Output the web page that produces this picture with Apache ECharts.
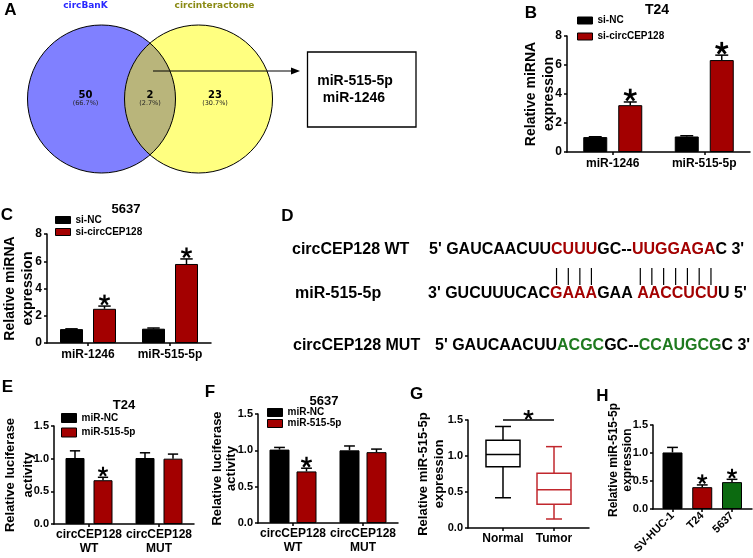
<!DOCTYPE html>
<html>
<head>
<meta charset="utf-8">
<script src="https://cdn.jsdelivr.net/npm/echarts@6.0.0/dist/echarts.min.js"></script>
<style>
html,body{margin:0;padding:0;background:#ffffff;}
#chart{width:753px;height:558px;}
</style>
</head>
<body>
<div id="chart"></div>
<script>
// ================= DATA =================
// A: Venn diagram
const vennSetNames = ['circBanK', 'circinteractome'];
const vennCounts = [50, 2, 23];
const vennPercents = ['(66.7%)', '(2.7%)', '(30.7%)'];
const vennShared = ['miR-515-5p', 'miR-1246'];

// B: T24, relative miRNA expression
const bTitle = 'T24';
const bCategories = ['miR-1246', 'miR-515-5p'];
const bSiNC = [1.03, 1.07];
const bSiNCErr = [1.05, 1.12];
const bSiCirc = [3.23, 6.34];
const bSiCircErr = [3.45, 6.68];
const bSiCircSig = [1, 1];

// C: 5637, relative miRNA expression
const cTitle = '5637';
const cCategories = ['miR-1246', 'miR-515-5p'];
const cSiNC = [1.02, 1.05];
const cSiNCErr = [1.04, 1.10];
const cSiCirc = [2.51, 5.80];
const cSiCircErr = [2.71, 6.17];
const cSiCircSig = [1, 1];

const expYTicks = [0, 2, 4, 6, 8];
const siNames = ['si-NC', 'si-circCEP128'];

// D: sequences (segments; odd segments are the seed-pairing / mutated bases)
const dRowLabels = ['circCEP128 WT', 'miR-515-5p', 'circCEP128 MUT'];
const dWT = ["5' GAUCAACUU", 'CUUU', 'GC--', 'UUGGAGA', "C 3'"];
const dMiR = ["3' GUCUUUCAC", 'GAAA', 'GAA ', 'AACCUCU', "U 5'"];
const dMUT = ["5' GAUCAACUU", 'ACGC', 'GC--', 'CCAUGCG', "C 3'"];

// E: T24 luciferase
const eTitle = 'T24';
const lucCategories = ['circCEP128\nWT', 'circCEP128\nMUT'];
const eMiNC = [1.01, 1.01];
const eMiNCErr = [1.12, 1.09];
const eMi515 = [0.67, 1.00];
const eMi515Err = [0.715, 1.07];
const eMi515Sig = [1, 0];

// F: 5637 luciferase
const fTitle = '5637';
const fMiNC = [1.01, 1.00];
const fMiNCErr = [1.04, 1.06];
const fMi515 = [0.71, 0.975];
const fMi515Err = [0.754, 1.017];
const fMi515Sig = [1, 0];

const lucYTicks = [0.0, 0.5, 1.0, 1.5];
const miNames = ['miR-NC', 'miR-515-5p'];

// G: box plot  [min, Q1, median, Q3, max]
const gCategories = ['Normal', 'Tumor'];
const gNormal = [0.42, 0.85, 1.02, 1.22, 1.41];
const gTumor = [0.125, 0.33, 0.53, 0.76, 1.13];
const gSigPair = [0, 1];
const gSigLevel = 1.5;

// H: cell lines
const hCategories = ['SV-HUC-1', 'T24', '5637'];
const hValues = [1.01, 0.39, 0.48];
const hErr = [1.10, 0.43, 0.53];
const hSig = [0, 1, 1];

// ================= STYLE =================
const FF = '"Liberation Sans", Arial, Helvetica, sans-serif';
const DV = '"DejaVu Sans", Verdana, sans-serif';
const RED = '#a30000';
const GREEN = '#0c6a10';
const TUMOR = '#c1272d';
const hColors = ['#000000', RED, GREEN];
const gColors = ['#000000', TUMOR];

const grid = [], xAxis = [], yAxis = [], series = [], legend = [], graphic = [];

const AXLINE = {show: true, onZero: false, lineStyle: {color: '#000', width: 1.5}};
function tick(extra) { return Object.assign({show: true, length: 3, lineStyle: {color: '#000', width: 1.5}}, extra || {}); }
function lab(size, extra) { return Object.assign({color: '#000', fontFamily: FF, fontWeight: 'bold', fontSize: size}, extra || {}); }

function T(x, y, text, size, opt) {
  opt = opt || {};
  const align = opt.align || 'center';
  return {type: 'text', x: x, y: y, z: opt.z || 20, silent: true,
    style: {text: text, fill: opt.color || '#000',
      font: (opt.weight || 'bold') + ' ' + size + 'px ' + (opt.family || FF),
      textAlign: align, align: align, textVerticalAlign: 'middle', verticalAlign: 'middle'}};
}

function starShape(cx, cy, r) {
  const children = [];
  for (let k = 0; k < 5; k++) {
    const a = (-90 + 72 * k) * Math.PI / 180;
    children.push({type: 'line', shape: {x1: cx, y1: cy, x2: cx + r * Math.cos(a), y2: cy + r * Math.sin(a)},
      style: {stroke: '#000', lineWidth: Math.max(2, r * 0.42)}});
  }
  return {type: 'group', children: children};
}

function errRender(offset, bw, starR) {
  return function (params, api) {
    const i = api.value(0), v = api.value(1), e = api.value(2), s = api.value(3);
    const pv = api.coord([i, v]);
    const pe = api.coord([i, e]);
    const x = pv[0] + offset;
    const cap = bw * 0.27;
    const children = [
      {type: 'line', shape: {x1: x, y1: pv[1], x2: x, y2: pe[1]}, style: {stroke: '#000', lineWidth: 1.5}},
      {type: 'line', shape: {x1: x - cap, y1: pe[1], x2: x + cap, y2: pe[1]}, style: {stroke: '#000', lineWidth: 1.5}}
    ];
    if (s) children.push(starShape(x, pe[1] - starR * 0.81 - 1.5, starR));
    return {type: 'group', children: children};
  };
}

function yAxisCfg(gi, p) {
  const t = p.ticks;
  return {gridIndex: gi, type: 'value', min: t[0], max: t[t.length - 1], interval: t[1] - t[0],
    axisLine: AXLINE, axisTick: tick(), splitLine: {show: false},
    axisLabel: lab(p.yFont, {margin: 5, formatter: p.yFmt}),
    name: p.name, nameLocation: 'middle', nameRotate: 90, nameGap: p.nameGap, nameMoveOverlap: false,
    nameTextStyle: lab(p.nameFont, {lineHeight: p.nameLH, padding: p.namePad || 0})};
}

function barPanel(p) {
  const gi = grid.length;
  grid.push({left: p.left, top: p.top, width: p.width, height: p.height, containLabel: false, outerBoundsMode: 'none'});
  xAxis.push({gridIndex: gi, type: 'category', data: p.categories, axisLine: AXLINE,
    axisTick: tick({alignWithLabel: true, interval: 0}), splitLine: {show: false},
    axisLabel: lab(p.xFont, {interval: 0, margin: p.xMargin, lineHeight: p.xLH || p.xFont + 2, hideOverlap: false})});
  yAxis.push(yAxisCfg(gi, p));
  const gapPct = (p.barGap / p.barWidth * 100) + '%';
  p.groups.forEach(function (g) {
    series.push({type: 'bar', name: g.name, xAxisIndex: gi, yAxisIndex: gi, data: g.values,
      barWidth: p.barWidth, barGap: gapPct, silent: true, z: 2,
      itemStyle: {color: g.color, borderColor: '#000', borderWidth: 1}});
  });
  p.groups.forEach(function (g, k) {
    const offset = (k - (p.groups.length - 1) / 2) * (p.barWidth + p.barGap);
    series.push({type: 'custom', xAxisIndex: gi, yAxisIndex: gi, silent: true, z: 3, clip: false,
      data: g.values.map(function (v, i) { return [i, v, g.errs[i], g.sigs[i]]; }),
      renderItem: errRender(offset, p.barWidth, p.starR)});
  });
  legend.push({data: p.groups.map(function (g) { return g.name; }), left: p.legend.left, top: p.legend.top,
    orient: 'vertical', icon: 'rect', itemWidth: 15, itemHeight: p.legend.itemHeight, itemGap: p.legend.itemGap,
    padding: 0, selectedMode: false, textStyle: lab(p.legend.font || 10),
    itemStyle: {borderColor: '#000', borderWidth: 1}});
}

const intFmt = function (v) { return String(Math.round(v)); };
const decFmt = function (v) { return v.toFixed(1); };

// ---- B ----
barPanel({left: 567, top: 36, width: 183, height: 116, categories: bCategories, ticks: expYTicks, yFmt: intFmt,
  yFont: 12, xFont: 12, xMargin: 5, name: 'Relative miRNA\nexpression', nameFont: 14, nameLH: 18, nameGap: 9,
  barWidth: 24, barGap: 11, starR: 6.5,
  groups: [{name: siNames[0], values: bSiNC, errs: bSiNCErr, sigs: [0, 0], color: '#000'},
           {name: siNames[1], values: bSiCirc, errs: bSiCircErr, sigs: bSiCircSig, color: RED}],
  legend: {left: 577, top: 15.5, itemHeight: 7, itemGap: 6}});
// ---- C ----
barPanel({left: 47, top: 234, width: 164, height: 109, categories: cCategories, ticks: expYTicks, yFmt: intFmt,
  yFont: 12, xFont: 12, xMargin: 5, name: 'Relative miRNA\nexpression', nameFont: 14, nameLH: 18, nameGap: 10,
  barWidth: 23, barGap: 10, starR: 5.5,
  groups: [{name: siNames[0], values: cSiNC, errs: cSiNCErr, sigs: [0, 0], color: '#000'},
           {name: siNames[1], values: cSiCirc, errs: cSiCircErr, sigs: cSiCircSig, color: RED}],
  legend: {left: 55, top: 215, itemHeight: 7, itemGap: 2}});
// ---- E ----
barPanel({left: 54, top: 426, width: 140, height: 98, categories: lucCategories, ticks: lucYTicks, yFmt: decFmt,
  yFont: 11, xFont: 12, xLH: 14, xMargin: 4, name: 'Relative luciferase\nactivity', nameFont: 13, nameLH: 18, nameGap: 17,
  barWidth: 19, barGap: 9, starR: 5,
  groups: [{name: miNames[0], values: eMiNC, errs: eMiNCErr, sigs: [0, 0], color: '#000'},
           {name: miNames[1], values: eMi515, errs: eMi515Err, sigs: eMi515Sig, color: RED}],
  legend: {left: 61, top: 413, itemHeight: 9, itemGap: 4.5}});
// ---- F ----
barPanel({left: 258, top: 414, width: 140, height: 109, categories: lucCategories, ticks: lucYTicks, yFmt: decFmt,
  yFont: 11, xFont: 12, xLH: 14, xMargin: 4, name: 'Relative luciferase\nactivity', nameFont: 13, nameLH: 14, nameGap: 20,
  barWidth: 20, barGap: 7, starR: 5.5,
  groups: [{name: miNames[0], values: fMiNC, errs: fMiNCErr, sigs: [0, 0], color: '#000'},
           {name: miNames[1], values: fMi515, errs: fMi515Err, sigs: fMi515Sig, color: RED}],
  legend: {left: 267, top: 407.5, itemHeight: 8, itemGap: 1}});

// ---- G (box plot) ----
(function () {
  const gi = grid.length;
  grid.push({left: 468, top: 420, width: 121, height: 108, containLabel: false, outerBoundsMode: 'none'});
  const idx = gCategories.map(function (c, i) { return i; });
  xAxis.push({gridIndex: gi, type: 'value', min: -0.686, max: 1.686, axisLine: AXLINE, splitLine: {show: false},
    axisTick: tick({customValues: idx}),
    axisLabel: lab(12, {customValues: idx, margin: 5, formatter: function (v) { return gCategories[Math.round(v)]; }})});
  yAxis.push(yAxisCfg(gi, {ticks: lucYTicks, yFmt: decFmt, yFont: 11, name: 'Relative miR-515-5p\nexpression',
    nameFont: 13, nameLH: 16, nameGap: 21}));
  const boxes = [gNormal, gTumor];
  series.push({type: 'custom', xAxisIndex: gi, yAxisIndex: gi, silent: true, z: 3,
    data: boxes.map(function (b, i) { return [i].concat(b); }),
    renderItem: function (params, api) {
      const x = api.value(0);
      const pts = [1, 2, 3, 4, 5].map(function (d) { return api.coord([x, api.value(d)]); });
      const cx = pts[0][0], hw = 17, cw = 8;
      const st = {stroke: gColors[params.dataIndex], lineWidth: 1.5, fill: null};
      return {type: 'group', children: [
        {type: 'line', shape: {x1: cx, y1: pts[0][1], x2: cx, y2: pts[1][1]}, style: st},
        {type: 'line', shape: {x1: cx, y1: pts[3][1], x2: cx, y2: pts[4][1]}, style: st},
        {type: 'line', shape: {x1: cx - cw, y1: pts[0][1], x2: cx + cw, y2: pts[0][1]}, style: st},
        {type: 'line', shape: {x1: cx - cw, y1: pts[4][1], x2: cx + cw, y2: pts[4][1]}, style: st},
        {type: 'rect', shape: {x: cx - hw, y: pts[3][1], width: 2 * hw, height: pts[1][1] - pts[3][1]},
          style: {stroke: gColors[params.dataIndex], lineWidth: 1.5, fill: '#fff'}},
        {type: 'line', shape: {x1: cx - hw, y1: pts[2][1], x2: cx + hw, y2: pts[2][1]}, style: st}
      ]};
    }});
  series.push({type: 'custom', xAxisIndex: gi, yAxisIndex: gi, silent: true, z: 4, clip: false,
    data: [[gSigPair[0], gSigPair[1], gSigLevel]],
    renderItem: function (params, api) {
      const a = api.coord([api.value(0), api.value(2)]);
      const b = api.coord([api.value(1), api.value(2)]);
      return {type: 'group', children: [
        {type: 'line', shape: {x1: a[0], y1: a[1], x2: b[0], y2: b[1]}, style: {stroke: '#000', lineWidth: 1.3}},
        starShape((a[0] + b[0]) / 2, a[1] - 5, 5)
      ]};
    }});
})();

// ---- H ----
(function () {
  const gi = grid.length;
  grid.push({left: 653, top: 425, width: 99, height: 84, containLabel: false, outerBoundsMode: 'none'});
  const idx = hCategories.map(function (c, i) { return i; });
  xAxis.push({gridIndex: gi, type: 'value', min: -0.655, max: 2.672, axisLine: AXLINE, splitLine: {show: false},
    axisTick: tick({customValues: idx}),
    axisLabel: lab(11, {customValues: idx, margin: 5, rotate: 45, formatter: function (v) { return hCategories[Math.round(v)]; }})});
  yAxis.push(yAxisCfg(gi, {ticks: lucYTicks, yFmt: decFmt, yFont: 11, name: 'Relative miR-515-5p\nexpression',
    nameFont: 12, nameLH: 14, nameGap: 18.5, namePad: [0, 0, 0, 14]}));
  series.push({type: 'bar', xAxisIndex: gi, yAxisIndex: gi, barWidth: 20, silent: true, z: 2,
    data: hValues.map(function (v, i) { return {value: [i, v], itemStyle: {color: hColors[i]}}; }),
    itemStyle: {borderColor: '#000', borderWidth: 1}});
  series.push({type: 'custom', xAxisIndex: gi, yAxisIndex: gi, silent: true, z: 3, clip: false,
    data: hValues.map(function (v, i) { return [i, v, hErr[i], hSig[i]]; }),
    renderItem: errRender(0, 20, 5)});
})();

// ---- A: Venn ----
(function () {
  const cy = 99, r = 74, c1 = 101.5, c2 = 198.5;
  const half = (c2 - c1) / 2, h = Math.sqrt(r * r - half * half);
  const pts = [];
  const a1 = Math.atan2(h, half);
  for (let k = 0; k <= 40; k++) {
    const a = -a1 + 2 * a1 * k / 40;
    pts.push([c1 + r * Math.cos(a), cy + r * Math.sin(a)]);
  }
  for (let k = 0; k <= 40; k++) {
    const a = Math.PI - a1 + 2 * a1 * k / 40;
    pts.push([c2 + r * Math.cos(a), cy + r * Math.sin(a)]);
  }
  graphic.push({type: 'circle', z: 1, silent: true, shape: {cx: c1, cy: cy, r: r}, style: {fill: '#8080ff'}});
  graphic.push({type: 'circle', z: 2, silent: true, shape: {cx: c2, cy: cy, r: r}, style: {fill: '#ffff80'}});
  graphic.push({type: 'polygon', z: 3, silent: true, shape: {points: pts}, style: {fill: '#b9b57b'}});
  graphic.push({type: 'circle', z: 4, silent: true, shape: {cx: c1, cy: cy, r: r}, style: {fill: 'none', stroke: '#000', lineWidth: 1}});
  graphic.push({type: 'circle', z: 4, silent: true, shape: {cx: c2, cy: cy, r: r}, style: {fill: 'none', stroke: '#000', lineWidth: 1}});
  graphic.push(T(85.5, 6, vennSetNames[0], 9, {family: DV, color: '#2828ff'}));
  graphic.push(T(214.5, 6, vennSetNames[1], 9, {family: DV, color: '#8a8a14'}));
  const xs = [85.5, 150, 215];
  xs.forEach(function (x, i) {
    graphic.push(T(x, 95, String(vennCounts[i]), 10, {family: DV}));
    graphic.push(T(x, 103.5, vennPercents[i], 6.5, {family: DV, weight: 'normal', color: '#222'}));
  });
  graphic.push({type: 'line', z: 5, silent: true, shape: {x1: 153, y1: 71, x2: 293, y2: 71}, style: {stroke: '#000', lineWidth: 1.2}});
  graphic.push({type: 'polygon', z: 5, silent: true, shape: {points: [[300, 71], [291, 67.5], [291, 74.5]]}, style: {fill: '#000'}});
  graphic.push({type: 'rect', z: 5, silent: true, shape: {x: 307.5, y: 52, width: 108.5, height: 75}, style: {fill: 'none', stroke: '#000', lineWidth: 1.3}});
  graphic.push(T(355, 81, vennShared[0], 14));
  graphic.push(T(354, 98, vennShared[1], 14));
})();

// ---- D: sequences ----
(function () {
  const mctx = document.createElement('canvas').getContext('2d');
  const size = 16, font = 'bold ' + size + 'px ' + FF;
  function tw(s) { mctx.font = font; return mctx.measureText(s).width; }
  function row(segs, x0, y, hi) {
    let x = x0; const centers = [];
    segs.forEach(function (s, i) {
      const isHi = i % 2 === 1;
      graphic.push(T(x, y, s, size, {align: 'left', color: isHi ? hi : '#000'}));
      if (isHi) {
        const cs = [];
        for (let k = 0; k < s.length; k++) cs.push(x + tw(s.slice(0, k)) + tw(s[k]) / 2);
        centers.push(cs);
      }
      x += tw(s);
    });
    return centers;
  }
  graphic.push(T(292, 250, dRowLabels[0], size, {align: 'left'}));
  graphic.push(T(295, 294, dRowLabels[1], size, {align: 'left'}));
  graphic.push(T(293, 346, dRowLabels[2], size, {align: 'left'}));
  const wt = row(dWT, 429, 250, RED);
  const mi = row(dMiR, 428, 294, RED);
  row(dMUT, 435, 346, '#1f7a1f');
  wt.forEach(function (cs, j) {
    cs.forEach(function (x, k) {
      const xx = (x + mi[j][k]) / 2;
      graphic.push({type: 'line', z: 20, silent: true, shape: {x1: xx, y1: 268, x2: xx, y2: 285}, style: {stroke: '#000', lineWidth: 1.2}});
    });
  });
})();

// ---- titles & panel letters ----
graphic.push(T(657, 10, bTitle, 14));
graphic.push(T(126, 209, cTitle, 13));
graphic.push(T(124, 405, eTitle, 13));
graphic.push(T(324, 401.5, fTitle, 13));
[['A', 10.5, 10.5], ['B', 531, 13], ['C', 7, 215], ['D', 287.5, 216], ['E', 7.5, 387.5],
 ['F', 210, 392.5], ['G', 416.5, 394], ['H', 602.5, 396]].forEach(function (l) {
  graphic.push(T(l[1], l[2], l[0], 17));
});

const chart = echarts.init(document.getElementById('chart'), null, {renderer: 'canvas'});
chart.setOption({
  animation: false,
  backgroundColor: '#ffffff',
  grid: grid, xAxis: xAxis, yAxis: yAxis, series: series, legend: legend,
  graphic: {elements: graphic}
});
</script>
</body>
</html>
